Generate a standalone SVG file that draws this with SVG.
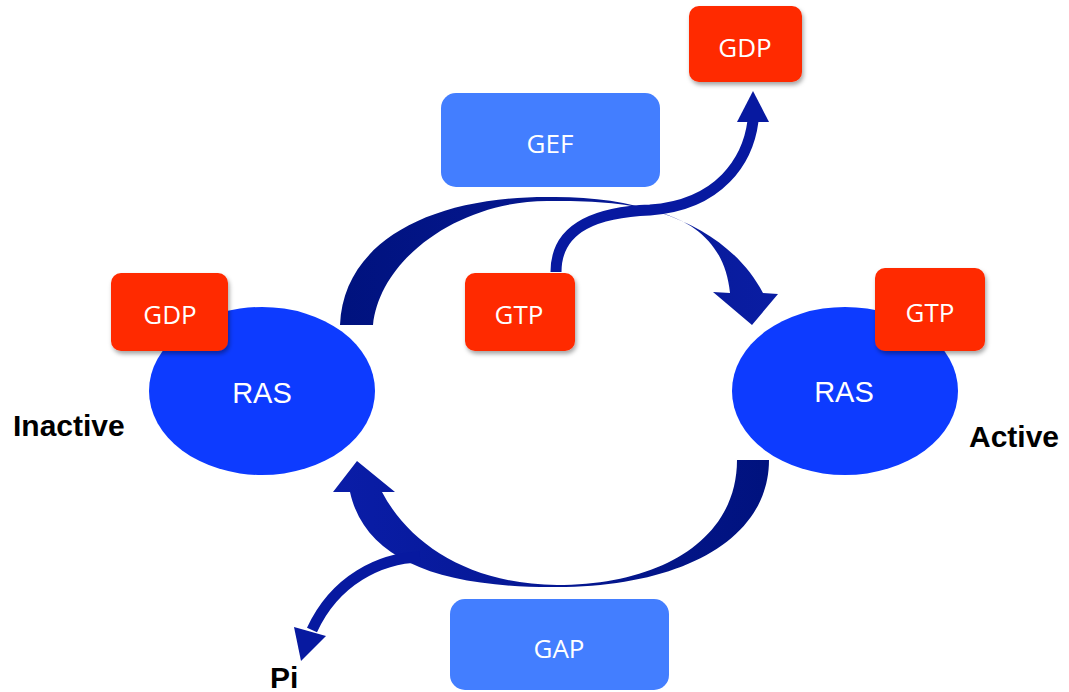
<svg xmlns="http://www.w3.org/2000/svg" width="1069" height="692" viewBox="0 0 1069 692">
  <defs>
    <style>
      .ras { fill: #0D3BFF; }
      .nuc { fill: #FF2A00; filter: url(#shadow); }
      .reg { fill: #437EFF; }
      .lbl { font-family: "Open Sans", "Liberation Sans", sans-serif; font-size: 26px; fill: #FFFFFF; text-anchor: middle; }
      .ras-lbl { font-family: "Liberation Sans", Arial, sans-serif; font-size: 29px; fill: #FFFFFF; text-anchor: middle; }
      .state { font-family: "Liberation Sans", Arial, sans-serif; font-size: 30px; font-weight: bold; fill: #000000; }
      .thin { fill: none; stroke: #0719A0; stroke-width: 11; }
      .head { fill: #0719A0; }
    </style>
    <filter id="shadow" x="-20%" y="-20%" width="150%" height="150%">
      <feDropShadow dx="1.5" dy="3" stdDeviation="2" flood-color="#000000" flood-opacity="0.35"/>
    </filter>
    <linearGradient id="topArc" gradientUnits="userSpaceOnUse" x1="340" y1="0" x2="780" y2="0">
      <stop offset="0" stop-color="#00127E"/>
      <stop offset="1" stop-color="#0A1DA3"/>
    </linearGradient>
    <linearGradient id="bottomArc" gradientUnits="userSpaceOnUse" x1="770" y1="0" x2="330" y2="0">
      <stop offset="0" stop-color="#00127E"/>
      <stop offset="1" stop-color="#0A1DA8"/>
    </linearGradient>
  </defs>

  <rect width="1069" height="692" fill="#FFFFFF"/>

  <!-- inactive RAS -->
  <g id="ras-inactive">
    <ellipse class="ras" cx="262" cy="391" rx="113" ry="84"/>
    <text class="ras-lbl" x="262" y="403">RAS</text>
  </g>

  <!-- active RAS -->
  <g id="ras-active">
    <ellipse class="ras" cx="845" cy="391" rx="113" ry="84"/>
    <text class="ras-lbl" x="844" y="402">RAS</text>
  </g>

  <g id="connectors">
    <!-- GEF-driven exchange: inactive to active -->
    <path fill="url(#topArc)" d="M 340,325 C 343,245 425,197 547,197 C 650,195 730,230 763,293 L 778,294 L 752,325 L 713,292 L 730,293 C 722,215 650,200 547,201 C 460,201 380,258 373,325 Z"/>
    <!-- GAP-driven hydrolysis: active to inactive -->
    <path fill="url(#bottomArc)" d="M 769,460 C 769,540 680,587 557,587 C 440,588 365,560 350,492 L 333,492 L 357,461 L 395,492 L 382,492 C 410,545 470,584 557,585 C 660,585 737,540 737,460 Z"/>
    <!-- GTP in, GDP out -->
    <path class="thin" d="M 556,272 C 556,225 600,212 650,210 C 720,205 748,160 753,121"/>
    <polygon class="head" points="737,122 769,122 753,91"/>
    <!-- phosphate release -->
    <path class="thin" stroke-width="10" d="M 420,557 C 380,558 335,580 312,630"/>
    <polygon class="head" points="294,627 326,636 301,661"/>
  </g>

  <g id="gdp-bound">
    <rect class="nuc" x="111" y="273" width="117" height="78" rx="10"/>
    <text class="lbl" x="170" y="324">GDP</text>
  </g>

  <g id="gtp-bound">
    <rect class="nuc" x="875" y="268" width="110" height="83" rx="10"/>
    <text class="lbl" x="930" y="322">GTP</text>
  </g>

  <g id="gtp-free">
    <rect class="nuc" x="465" y="273" width="110" height="78" rx="10"/>
    <text class="lbl" x="519" y="324">GTP</text>
  </g>

  <g id="gdp-released">
    <rect class="nuc" x="689" y="6" width="113" height="76" rx="10"/>
    <text class="lbl" x="745" y="57">GDP</text>
  </g>

  <g id="gef">
    <rect class="reg" x="441" y="93" width="219" height="94" rx="15"/>
    <text class="lbl" x="550" y="153">GEF</text>
  </g>

  <g id="gap">
    <rect class="reg" x="450" y="599" width="219" height="91" rx="15"/>
    <text class="lbl" x="559" y="658">GAP</text>
  </g>

  <g id="labels">
    <text class="state" x="13" y="436">Inactive</text>
    <text class="state" x="969" y="447">Active</text>
    <text class="state" x="270" y="688">Pi</text>
  </g>
</svg>
